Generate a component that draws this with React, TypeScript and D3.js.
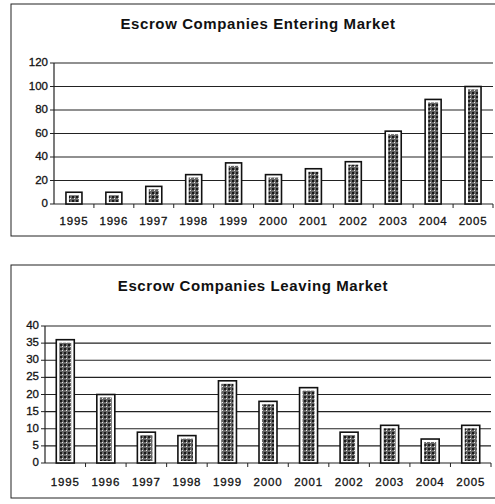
import React from "react";
import * as d3 from "d3";

const years = ["1995", "1996", "1997", "1998", "1999", "2000", "2001", "2002", "2003", "2004", "2005"];
const entering = [10, 10, 15, 25, 35, 25, 30, 36, 62, 89, 100];
const leaving = [36, 20, 9, 8, 24, 18, 22, 9, 11, 7, 11];
const enteringTicks = [0, 20, 40, 60, 80, 100, 120];
const leavingTicks = [0, 5, 10, 15, 20, 25, 30, 35, 40];

type PanelProps = {
  title: string;
  values: number[];
  ticks: number[];
  max: number;
  box: { x: number; y: number; w: number; h: number };
  plot: { l: number; r: number; t: number; b: number };
  titleX: number;
  titleY: number;
  labelY: number;
  barW: number;
};

function Panel({ title, values, ticks, max, box, plot, titleX, titleY, labelY, barW }: PanelProps) {
  const x = d3.scaleBand<string>().domain(years).range([plot.l, plot.r]).paddingInner(0).paddingOuter(0);
  const y = d3.scaleLinear().domain([0, max]).range([plot.b, plot.t]);
  const bw = x.bandwidth();
  return (
    <g>
      <rect x={box.x} y={box.y} width={box.w} height={box.h} fill="white" stroke="#222" strokeWidth={1} />
      <text x={titleX} y={titleY} textAnchor="middle" dominantBaseline="middle"
        fontFamily="Liberation Sans, Arial, sans-serif" fontWeight="bold" fontSize={15} letterSpacing={0.6} fill="#111">
        {title}
      </text>
      {ticks.map((t) => (
        <g key={t}>
          <line x1={plot.l} x2={plot.r} y1={y(t)} y2={y(t)} stroke="#222" strokeWidth={1.2} />
          <line x1={plot.l - 4} x2={plot.l} y1={y(t)} y2={y(t)} stroke="#222" strokeWidth={1} />
          <text x={plot.l - 6} y={y(t)} textAnchor="end" dominantBaseline="middle"
            fontFamily="Liberation Sans, Arial, sans-serif" fontSize={11.5} fill="#111" stroke="#111" strokeWidth={0.3}>
            {t}
          </text>
        </g>
      ))}
      <line x1={plot.l} x2={plot.l} y1={plot.t} y2={plot.b} stroke="#222" strokeWidth={1.2} />
      {years.map((yr) => (
        <line key={"tk" + yr} x1={(x(yr) as number) + bw} x2={(x(yr) as number) + bw} y1={plot.b} y2={plot.b + 4} stroke="#222" />
      ))}
      {years.map((yr, i) => {
        const cx = (x(yr) as number) + bw / 2;
        const top = y(values[i]);
        return (
          <g key={yr}>
            <rect x={cx - barW / 2} y={top} width={barW} height={plot.b - top} fill="white" stroke="#111" strokeWidth={1.6} />
            <rect x={cx - barW / 2 + 3} y={top + 3} width={barW - 6} height={Math.max(0, plot.b - top - 5)} fill="url(#speck)" />
            <text x={cx} y={labelY} textAnchor="middle" dominantBaseline="middle"
              fontFamily="Liberation Sans, Arial, sans-serif" fontSize={11.5} fill="#111" stroke="#111" strokeWidth={0.3} letterSpacing={0.8}>
              {yr}
            </text>
          </g>
        );
      })}
    </g>
  );
}

export default function App() {
  return (
    <div style={{ position: "absolute", left: 0, top: 0 }}>
      <svg width={495} height={504} style={{ display: "block", background: "white" }}>
        <defs>
          <pattern id="speck" width={4} height={4} patternUnits="userSpaceOnUse">
            <rect width={4} height={4} fill="#666" />
            <rect x={0} y={0} width={2} height={2} fill="#1a1a1a" />
            <rect x={2} y={2} width={1} height={1} fill="#eee" />
          </pattern>
        </defs>
        <Panel
          title="Escrow Companies Entering Market"
          values={entering}
          ticks={enteringTicks}
          max={120}
          box={{ x: 11, y: 4, w: 500, h: 232 }}
          plot={{ l: 54, r: 493, t: 63, b: 204 }}
          titleX={258}
          titleY={25}
          labelY={222}
          barW={16}
        />
        <Panel
          title="Escrow Companies Leaving Market"
          values={leaving}
          ticks={leavingTicks}
          max={40}
          box={{ x: 11, y: 265, w: 500, h: 233 }}
          plot={{ l: 45, r: 491, t: 326, b: 463 }}
          titleX={253}
          titleY={287}
          labelY={483}
          barW={18}
        />
      </svg>
    </div>
  );
}
